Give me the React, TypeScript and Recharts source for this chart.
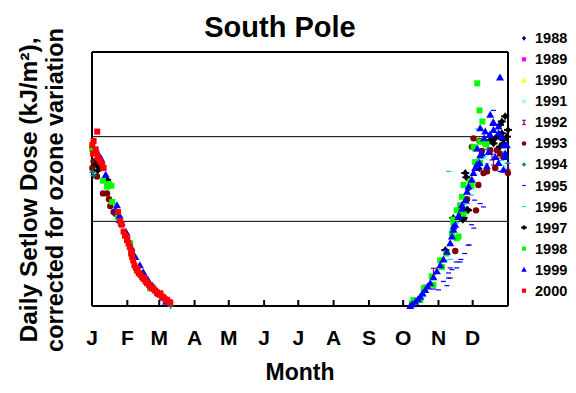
import React from "react";
import {
  ReferenceLine,
  Scatter,
  ScatterChart,
  XAxis,
  YAxis,
} from "recharts";

type Pt = [number, number]; // [day of year, dose]

const monthStarts = [0, 31, 59, 90, 120, 151, 181, 212, 243, 273, 304, 334, 365];
const monthLabels = ["J", "F", "M", "A", "M", "J", "J", "A", "S", "O", "N", "D", ""];
const doseTicks = [0, 1, 2, 3];
const gridLevels = [1, 2];

const y1988: Pt[] = [[330, 1.38], [340, 1.62]];
const y1989: Pt[] = [];
const y1990: Pt[] = [];
const y1991: Pt[] = [[333, 1.4], [345, 1.75], [362, 1.65]];
const y1992: Pt[] = [[292.4, 0.21], [299.6, 0.41], [350.9, 1.76], [352.3, 1.7], [364.9, 1.65], [356, 1.78]];
const y1993: Pt[] = [
  [1.4, 1.71], [0.3, 1.63], [4.4, 1.53], [9.6, 1.33], [13.2, 1.33], [14.9, 1.26], [16, 1.18],
  [20.7, 1.09], [19, 1.11],
  [318.7, 0.65], [323, 1.07], [329, 1.26], [333.3, 1.88], [334.7, 1.98], [337, 1.13], [339, 1.43],
  [342, 1.83], [343.5, 1.57], [346.5, 1.59], [349.4, 1.84], [353.8, 1.63], [355.3, 1.84],
  [358, 1.8], [361, 1.76], [364.9, 1.57], [340, 1.95],
];
const y1994: Pt[] = [[1.4, 1.54], [0.5, 1.58], [69, 0.0], [325, 1.2], [347, 1.85]];
const y1995: Pt[] = [
  [299.6, 0.2], [304, 0.19], [308.4, 0.29], [311.4, 0.24], [312.8, 0.33], [312.8, 0.39],
  [314.3, 0.45], [314.3, 0.33], [315.8, 0.43], [319.6, 0.52], [320, 0.45], [323, 0.52],
  [323.7, 0.55], [327, 0.62], [330, 0.72], [331, 0.72], [333, 0.96], [335, 0.92], [335.7, 1.25],
  [340.6, 1.21], [343.5, 1.17], [352.3, 2.31], [358, 1.59],
];
const y1996: Pt[] = [
  [291, 0.22], [291, 0.11], [302.6, 0.39], [310, 0.54], [314.3, 0.55], [313, 1.59], [329.5, 1.21],
  [333, 1.31], [338, 2.09], [340.6, 1.74], [346.5, 1.68], [352.3, 1.74], [359.6, 1.72],
  [364, 1.69], [341, 2.1], [325, 1.17], [320, 0.98], [362, 1.82],
];
const y1997: Pt[] = [
  [3.8, 1.67], [6.7, 1.65], [11, 1.5], [13.2, 1.49], [5, 1.6],
  [310, 0.66], [317, 1.04], [326, 1.04], [325.4, 1.02], [329, 1.14], [330, 1.13], [327.5, 1.57],
  [328.5, 1.52], [339, 1.69], [349.4, 1.96], [352.3, 1.92], [353.8, 1.98], [357.5, 2.02],
  [358, 2.14], [358, 1.88], [359.6, 2.04], [359.6, 2.18], [361, 1.92], [361, 1.96], [362.5, 2.24],
  [364, 2.0], [365, 2.08],
];
const y1998: Pt[] = [
  [0, 1.86], [9.6, 1.48], [13.2, 1.41], [17, 1.42], [15, 1.44], [17.8, 1.23], [22.8, 1.05],
  [33.5, 0.74], [43, 0.37], [51, 0.21],
  [280.7, 0.03], [282, 0.07], [288, 0.07], [291, 0.21], [298, 0.35], [299.6, 0.25], [305.5, 0.54],
  [307, 0.46], [311, 0.62], [315.8, 0.86], [317.2, 0.98], [321.6, 0.82], [320, 0.8], [317, 1.02],
  [320, 1.13], [323, 1.19], [324.6, 1.29], [326, 1.43], [326, 1.09], [331.8, 1.47], [333, 1.42],
  [336.2, 1.7], [340.6, 1.69], [334.7, 1.88], [336, 1.86], [340.6, 1.94], [345, 1.92], [346, 1.91],
  [338, 2.63], [340, 2.31], [342.5, 2.18],
];
const y1999: Pt[] = [
  [6.1, 1.78], [12, 1.55], [8, 1.74], [21.9, 1.19], [20.7, 1.13], [24.2, 1.07], [24.2, 1.02],
  [26, 0.98], [30, 0.87], [34.5, 0.69], [38, 0.58], [42, 0.48], [45, 0.4], [49, 0.31], [53, 0.24],
  [58, 0.15], [62, 0.1], [65, 0.05],
  [279.2, 0.0], [281, 0.02], [283.6, 0.05], [286, 0.08], [288, 0.11], [290, 0.15], [292.4, 0.19],
  [294.5, 0.23], [296.8, 0.27], [299.6, 0.34], [302.6, 0.41], [305.5, 0.48], [308.4, 0.55],
  [311.4, 0.64], [314.3, 0.74], [315.8, 0.82], [317.2, 0.9], [318.7, 0.96], [321.6, 1.07],
  [324.6, 1.19], [317.2, 0.94], [321.6, 1.05], [324.6, 1.15], [327.5, 1.25], [329, 1.35],
  [330.4, 1.41], [333.3, 1.49], [334.7, 1.57], [336.2, 1.63], [337.7, 1.67], [340, 1.69],
  [342, 1.8], [340.6, 1.78], [348, 1.82], [353.8, 1.76], [356.7, 1.69], [362.5, 1.8],
  [349.4, 2.02], [352.3, 2.08], [356.7, 2.04], [359.6, 2.0], [352.3, 2.16], [356.7, 2.12],
  [340.6, 2.1], [345, 2.06], [348.8, 2.02], [364, 1.9], [361, 1.61], [346.5, 1.65], [358, 2.7],
  [349.4, 2.26], [352, 2.17], [361, 1.9], [362.5, 1.76], [344, 1.98], [338, 1.86],
];
const y2000: Pt[] = [
  [0.3, 1.9], [1.4, 1.95], [4.6, 2.06], [0.9, 1.8], [3.2, 1.85], [3.8, 1.81], [6.7, 1.72],
  [9, 1.67], [10.2, 1.63], [5, 1.76], [7.5, 1.7], [22.8, 1.11], [24.8, 1.0], [26, 0.96],
  [27.7, 0.88], [29, 0.83], [30.7, 0.78], [31, 0.8], [32, 0.74], [33.1, 0.7], [34.3, 0.62],
  [35, 0.64], [35.2, 0.58], [36.1, 0.54], [37.2, 0.48], [38.5, 0.45], [39.5, 0.42], [40, 0.44],
  [41, 0.39], [42.4, 0.37], [44, 0.34], [45.3, 0.32], [46, 0.33], [47, 0.29], [48.3, 0.27],
  [50, 0.25], [51.1, 0.23], [52.5, 0.21], [53, 0.22], [54.1, 0.2], [55.5, 0.18], [57, 0.16],
  [58.5, 0.14], [59.9, 0.13], [60, 0.15], [61.5, 0.11], [62.8, 0.1], [64.3, 0.08], [65.8, 0.07],
  [67.2, 0.05], [68.7, 0.04],
];

type Kind = "diamond" | "square" | "triangle" | "x" | "ibar" | "circle" | "plus" | "dash" | "star";

const years: { name: string; color: string; kind: Kind; pts: Pt[] }[] = [
  { name: "1988", color: "#000080", kind: "diamond", pts: y1988 },
  { name: "1989", color: "#FF00FF", kind: "square", pts: y1989 },
  { name: "1990", color: "#FFFF00", kind: "triangle", pts: y1990 },
  { name: "1991", color: "#33FFFF", kind: "x", pts: y1991 },
  { name: "1992", color: "#800080", kind: "ibar", pts: y1992 },
  { name: "1993", color: "#800000", kind: "circle", pts: y1993 },
  { name: "1994", color: "#008080", kind: "plus", pts: y1994 },
  { name: "1995", color: "#0000FF", kind: "dash", pts: y1995 },
  { name: "1996", color: "#00CCFF", kind: "dash", pts: y1996 },
  { name: "1997", color: "#000000", kind: "star", pts: y1997 },
  { name: "1998", color: "#00FF00", kind: "square", pts: y1998 },
  { name: "1999", color: "#0000FF", kind: "triangle", pts: y1999 },
  { name: "2000", color: "#FF0000", kind: "square", pts: y2000 },
];

const FONT = "Arial, 'Liberation Sans', Helvetica, sans-serif";

function Marker({ kind, cx, cy, color, s = 1 }: { kind: Kind; cx: number; cy: number; color: string; s?: number }) {
  switch (kind) {
    case "square":
      return <rect x={cx - 3 * s} y={cy - 3 * s} width={6 * s} height={6 * s} fill={color} />;
    case "triangle":
      return (
        <polygon
          points={`${cx},${cy - 4 * s} ${cx + 4 * s},${cy + 3 * s} ${cx - 4 * s},${cy + 3 * s}`}
          fill={color}
        />
      );
    case "diamond":
      return (
        <polygon
          points={`${cx},${cy - 3.5 * s} ${cx + 3 * s},${cy} ${cx},${cy + 3.5 * s} ${cx - 3 * s},${cy}`}
          fill={color}
        />
      );
    case "star":
      return (
        <g fill={color}>
          <polygon points={`${cx},${cy - 4 * s} ${cx + 3 * s},${cy} ${cx},${cy + 4 * s} ${cx - 3 * s},${cy}`} />
          <rect x={cx - 4 * s} y={cy - 1} width={8 * s} height={2} />
        </g>
      );
    case "circle":
      return <circle cx={cx} cy={cy} r={3.2 * s} fill={color} />;
    case "plus":
      return (
        <g stroke={color} strokeWidth={1.5}>
          <line x1={cx - 3 * s} y1={cy} x2={cx + 3 * s} y2={cy} />
          <line x1={cx} y1={cy - 3 * s} x2={cx} y2={cy + 3 * s} />
        </g>
      );
    case "x":
      return (
        <g stroke={color} strokeWidth={1}>
          <line x1={cx - 2.5 * s} y1={cy - 2.5 * s} x2={cx + 2.5 * s} y2={cy + 2.5 * s} />
          <line x1={cx - 2.5 * s} y1={cy + 2.5 * s} x2={cx + 2.5 * s} y2={cy - 2.5 * s} />
        </g>
      );
    case "ibar":
      return (
        <g stroke={color} strokeWidth={1.2}>
          <line x1={cx - 2.5 * s} y1={cy - 3 * s} x2={cx + 2.5 * s} y2={cy - 3 * s} />
          <line x1={cx} y1={cy - 3 * s} x2={cx} y2={cy + 3 * s} />
          <line x1={cx - 2.5 * s} y1={cy + 3 * s} x2={cx + 2.5 * s} y2={cy + 3 * s} />
        </g>
      );
    case "dash":
    default:
      return <rect x={cx - 2.5 * s} y={cy - 0.6} width={5 * s} height={1.2} fill={color} />;
  }
}

export default function App() {
  return (
    <div style={{ position: "absolute", left: 0, top: 0, width: 576, height: 393, background: "#fff", fontFamily: FONT }}>
      <ScatterChart width={576} height={393} margin={{ top: 52, right: 68, bottom: 47, left: 62 }}>
        <XAxis
          type="number"
          dataKey="d"
          domain={[0, 365]}
          ticks={monthStarts}
          interval={0}
          height={40}
          tickSize={-6}
          tickMargin={30}
          tickFormatter={(v: number) => monthLabels[monthStarts.indexOf(v)] ?? ""}
          axisLine={{ stroke: "#000", strokeWidth: 2 }}
          tickLine={{ stroke: "#000", strokeWidth: 2 }}
          tick={{ fill: "#000", fontSize: 21, fontWeight: "bold", fontFamily: FONT }}
        />
        <YAxis
          type="number"
          dataKey="v"
          domain={[0, 3]}
          ticks={doseTicks}
          width={30}
          tick={false}
          tickSize={3}
          axisLine={{ stroke: "#000", strokeWidth: 2 }}
          tickLine={{ stroke: "#000", strokeWidth: 1 }}
        />
        {gridLevels.map((g) => (
          <ReferenceLine key={g} y={g} stroke="#000" strokeWidth={1} />
        ))}
        <ReferenceLine y={3} stroke="#000" strokeWidth={2} />
        <ReferenceLine x={365} stroke="#000" strokeWidth={2} />
        {years.map((yr) => (
          <Scatter
            key={yr.name}
            name={yr.name}
            data={yr.pts.map(([d, v]) => ({ d, v }))}
            isAnimationActive={false}
            shape={(p: any) => <Marker kind={yr.kind} cx={p.cx} cy={p.cy} color={yr.color} />}
          />
        ))}
      </ScatterChart>
      <svg
        width={576}
        height={393}
        style={{ position: "absolute", left: 0, top: 0, pointerEvents: "none" }}
        fontFamily={FONT}
        fontWeight="bold"
      >
        <text x={280} y={37} textAnchor="middle" fontSize={29}>
          South Pole
        </text>
        <text transform="translate(37,190) rotate(-90)" textAnchor="middle" fontSize={24.5}>
          Daily Setlow Dose (kJ/m²),
        </text>
        <text transform="translate(63,190) rotate(-90)" textAnchor="middle" fontSize={23.5}>
          corrected for ozone variation
        </text>
        <text x={300} y={380} textAnchor="middle" fontSize={23}>
          Month
        </text>
        {years.map((yr, i) => {
          const base = 43.3 + i * 21.03;
          return (
            <g key={yr.name}>
              <Marker kind={yr.kind} cx={524} cy={base - 5} color={yr.color} s={0.7} />
              <text x={535} y={base} fontSize={14.5}>
                {yr.name}
              </text>
            </g>
          );
        })}
      </svg>
    </div>
  );
}
